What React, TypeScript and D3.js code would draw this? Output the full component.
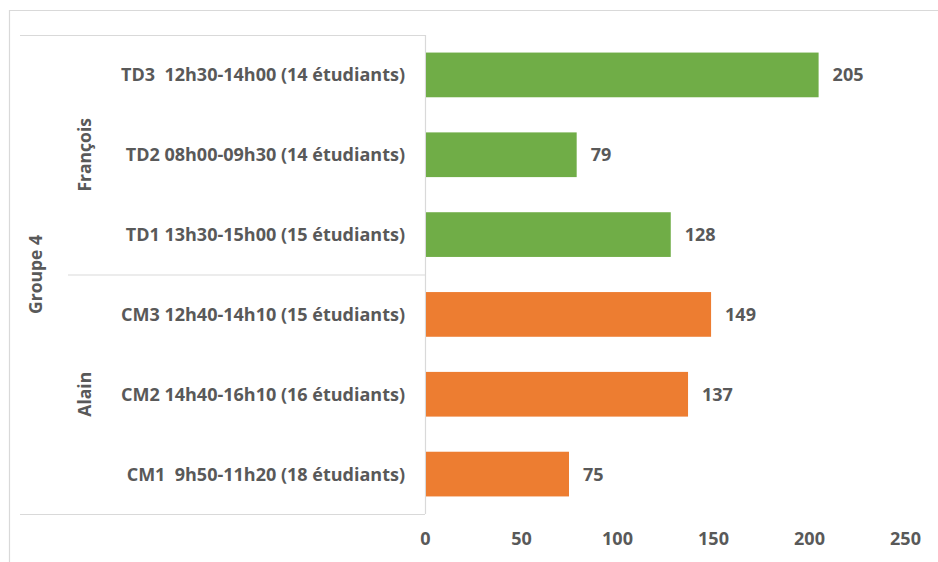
import * as d3 from 'd3';
import { useEffect, useRef } from 'react';

const categories = [
    'TD3  12h30-14h00 (14 étudiants)',
    'TD2 08h00-09h30 (14 étudiants)',
    'TD1 13h30-15h00 (15 étudiants)',
    'CM3 12h40-14h10 (15 étudiants)',
    'CM2 14h40-16h10 (16 étudiants)',
    'CM1  9h50-11h20 (18 étudiants)'
];
const values = [205, 79, 128, 149, 137, 75];
const teachers = ['François', 'François', 'François', 'Alain', 'Alain', 'Alain'];
const teacherNames = ['François', 'Alain'];
const groupName = 'Groupe 4';
const xTicks = [0, 50, 100, 150, 200, 250];

const colorOf: { [key: string]: string } = { 'François': '#70AD47', 'Alain': '#ED7D31' };

const App = () => {
    const ref = useRef<SVGSVGElement | null>(null);

    useEffect(() => {
        if (!ref.current) return;
        const W = 938, H = 562;
        const svg = d3.select(ref.current);
        svg.selectAll('*').remove();

        const font = "'Open Sans', sans-serif";
        const textColor = '#595959';
        const lineColor = '#D9D9D9';

        const top = 35, bottom = 514, x0 = 425;

        const x = d3.scaleLinear().domain([0, 250]).range([x0, 905]);
        const y = d3.scaleBand().domain(categories).range([top, bottom]).paddingInner(0.44).paddingOuter(0.22);

        // outer frame
        svg.append('path')
            .attr('d', `M${W + 2},10.5 H9.5 V${H + 2}`)
            .attr('fill', 'none')
            .attr('stroke', lineColor)
            .attr('stroke-width', 1.2);

        // category axis lines
        const cat = svg.append('g').attr('stroke', lineColor).attr('stroke-width', 1.2);
        cat.append('line').attr('x1', 20).attr('x2', x0).attr('y1', top + 0.5).attr('y2', top + 0.5);
        cat.append('line').attr('x1', 20).attr('x2', x0).attr('y1', bottom + 0.5).attr('y2', bottom + 0.5);
        const mid = (y(categories[2])! + y.bandwidth() + y(categories[3])!) / 2;
        cat.append('line').attr('x1', 68).attr('x2', x0).attr('y1', mid + 0.5).attr('y2', mid + 0.5);
        cat.append('line').attr('x1', x0 + 0.5).attr('x2', x0 + 0.5).attr('y1', top).attr('y2', bottom);

        // bars
        svg.selectAll('.bar')
            .data(categories)
            .enter().append('rect')
            .attr('class', 'bar')
            .attr('x', x(0) + 1)
            .attr('y', d => y(d)!)
            .attr('width', (_d, i) => x(values[i]) - x(0) - 1)
            .attr('height', y.bandwidth())
            .attr('fill', (_d, i) => colorOf[teachers[i]]);

        // value labels
        svg.selectAll('.val')
            .data(categories)
            .enter().append('text')
            .attr('x', (_d, i) => x(values[i]) + 14)
            .attr('y', d => y(d)! + y.bandwidth() / 2)
            .attr('dy', '0.36em')
            .attr('font-family', font)
            .attr('font-weight', 'bold')
            .attr('font-size', 18)
            .attr('fill', textColor)
            .text((_d, i) => values[i]);

        // category labels
        svg.selectAll('.cat')
            .data(categories)
            .enter().append('text')
            .attr('x', 405)
            .attr('y', d => y(d)! + y.bandwidth() / 2)
            .attr('dy', '0.36em')
            .attr('text-anchor', 'end')
            .attr('font-family', font)
            .attr('font-weight', 'bold')
            .attr('font-size', 18)
            .attr('fill', textColor)
            .style('white-space', 'pre')
            .text(d => d);

        // teacher labels
        teacherNames.forEach(t => {
            const cats = categories.filter((_c, i) => teachers[i] === t);
            const cy = (y(cats[0])! + y(cats[cats.length - 1])! + y.bandwidth()) / 2;
            svg.append('text')
                .attr('transform', `translate(85,${cy}) rotate(-90)`)
                .attr('dy', '0.36em')
                .attr('text-anchor', 'middle')
                .attr('font-family', font)
                .attr('font-weight', 'bold')
                .attr('font-size', 17.5)
                .attr('fill', textColor)
                .text(t);
        });

        svg.append('text')
            .attr('transform', `translate(36,${(top + bottom) / 2}) rotate(-90)`)
            .attr('dy', '0.36em')
            .attr('text-anchor', 'middle')
            .attr('font-family', font)
            .attr('font-weight', 'bold')
            .attr('font-size', 17.5)
            .attr('fill', textColor)
            .text(groupName);

        // value axis
        const axis = svg.append('g')
            .attr('transform', `translate(0,${bottom})`)
            .call(d3.axisBottom(x).tickValues(xTicks).tickSize(0).tickPadding(18));
        axis.select('.domain').remove();
        axis.selectAll('text')
            .attr('font-family', font)
            .attr('font-weight', 'bold')
            .attr('font-size', 18)
            .attr('fill', textColor);
    }, []);

    return (
        <svg ref={ref} width={938} height={562}
            style={{ position: 'absolute', left: 0, top: 0, background: '#fff', display: 'block' }} />
    );
};

export default App;
